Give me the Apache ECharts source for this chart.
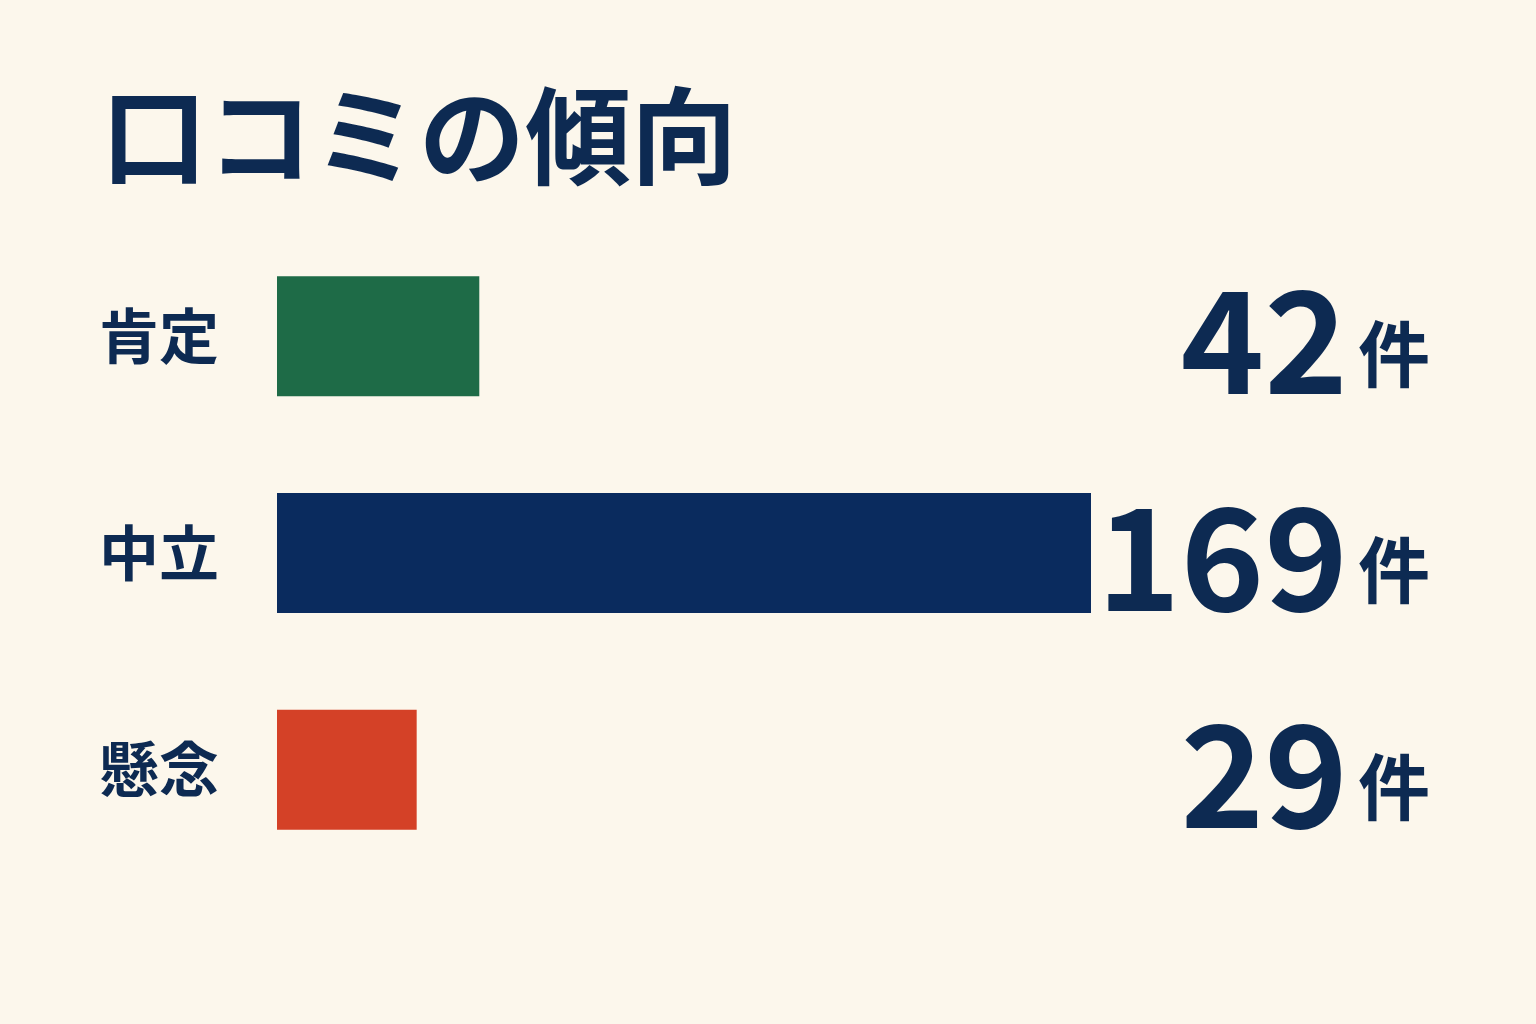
<!DOCTYPE html>
<html><head><meta charset="utf-8">
<script src="https://cdn.jsdelivr.net/npm/echarts@6/dist/echarts.min.js"></script>
<style>html,body{margin:0;padding:0;background:#FCF7EC;}#c{width:1536px;height:1024px;}</style>
</head><body><div id="c"></div>
<script>
const titleText = '口コミの傾向';
const categories = ['肯定', '中立', '懸念'];
const values = [42, 169, 29];
const unit = '件';
const colors = ['#1E6B47', '#0A2B5E', '#D44127'];

const FONT = '"Noto Sans CJK JP", "Noto Sans", sans-serif';
const TEXT = '#0D2A52';
const chart = echarts.init(document.getElementById('c'));
chart.setOption({
  backgroundColor: '#FCF7EC',
  animation: false,
  title: {
    text: titleText, left: 96, top: 78,
    textStyle: { fontFamily: FONT, fontWeight: 'bold', fontSize: 106, color: TEXT }
  },
  grid: { left: 277, right: 445, top: 228, bottom: 146 },
  xAxis: { type: 'value', min: 0, max: 169, show: false },
  yAxis: [
    { type: 'category', data: categories, inverse: true,
      axisLine: { show: false }, axisTick: { show: false }, splitLine: { show: false },
      axisLabel: { margin: 58, fontFamily: FONT, fontWeight: 'bold', fontSize: 60, color: TEXT } },
    { type: 'category', data: categories, inverse: true, position: 'right',
      axisLabel: {
        margin: 339, align: 'right',
        formatter: function (v, i) { return '{n|' + values[i] + '}{u|' + unit + '}'; },
        rich: {
          n: { fontFamily: FONT, fontWeight: 'bold', fontSize: 142, color: TEXT, verticalAlign: 'bottom', lineHeight: 150 },
          u: { fontFamily: FONT, fontWeight: 'bold', fontSize: 72, color: TEXT, verticalAlign: 'bottom', padding: [0, 0, 22, 10], lineHeight: 150 }
        }
      },
      axisLine: { show: false }, axisTick: { show: false }, splitLine: { show: false } }
  ],
  series: [{
    type: 'bar', barWidth: 120,
    data: values.map((v, i) => ({ value: v, itemStyle: { color: colors[i] } })),
    label: { show: false }
  }]
});
</script></body></html>
